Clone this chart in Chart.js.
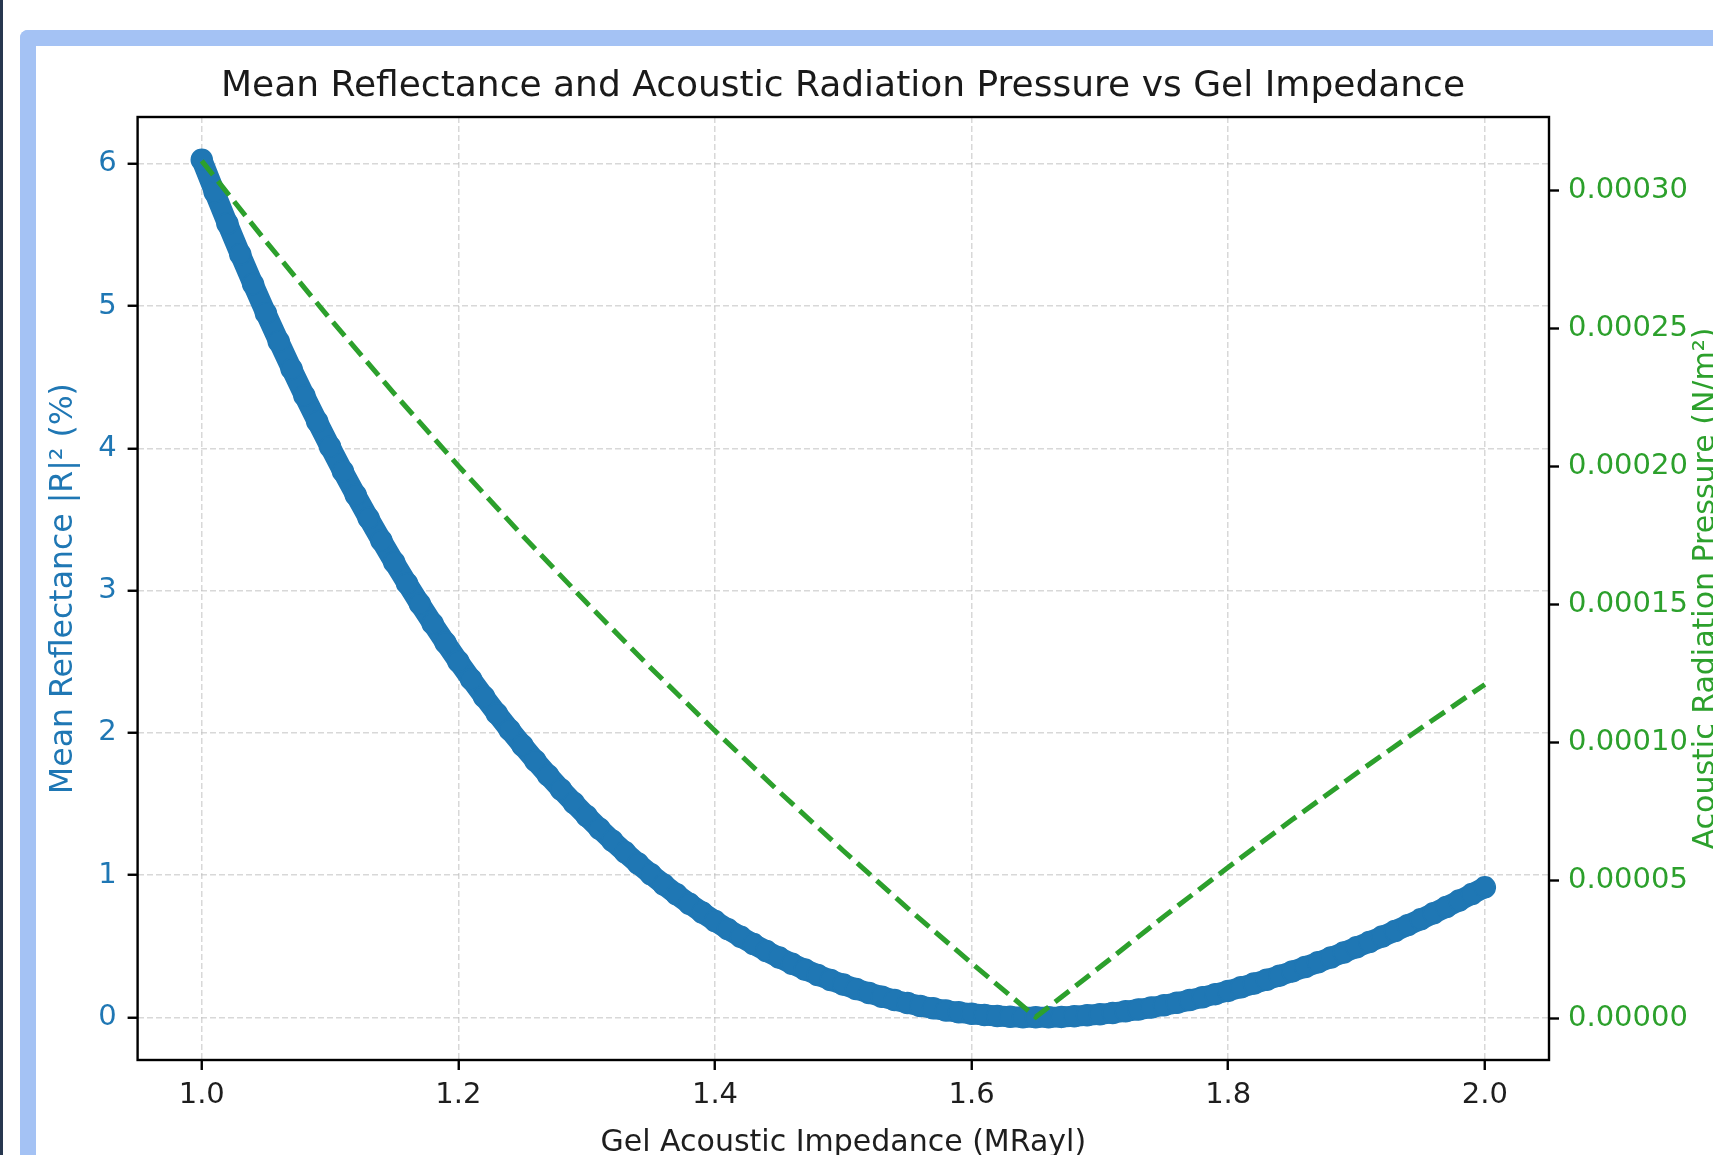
<!DOCTYPE html>
<html>
<head>
<meta charset="utf-8">
<script src="https://cdn.jsdelivr.net/npm/chart.js@4"></script>
<style>
  html, body { margin: 0; padding: 0; background: #ffffff; overflow: hidden; width: 1713px; height: 1155px; }
  #navy { position: absolute; left: 0; top: 0; width: 3px; height: 1155px; background: #27374f; }
  #frame { position: absolute; left: 20px; top: 30px; width: 1900px; height: 1300px;
           border-left: 16px solid #a4c2f4; border-top: 16px solid #a4c2f4;
           border-top-left-radius: 8px; background: #ffffff; }
  #wrap { position: absolute; left: -40px; top: 0; width: 1766px; height: 1200px; }
  canvas { display: block; }
</style>
</head>
<body>
<div id="navy"></div>
<div id="frame"></div>
<div id="wrap"><canvas id="c" width="1766" height="1200"></canvas></div>
<script>
// ---- data ----
const impedance = [1.00,1.01,1.02,1.03,1.04,1.05,1.06,1.07,1.08,1.09,1.10,1.11,1.12,1.13,1.14,1.15,1.16,1.17,1.18,1.19,1.20,1.21,1.22,1.23,1.24,1.25,1.26,1.27,1.28,1.29,1.30,1.31,1.32,1.33,1.34,1.35,1.36,1.37,1.38,1.39,1.40,1.41,1.42,1.43,1.44,1.45,1.46,1.47,1.48,1.49,1.50,1.51,1.52,1.53,1.54,1.55,1.56,1.57,1.58,1.59,1.60,1.61,1.62,1.63,1.64,1.65,1.66,1.67,1.68,1.69,1.70,1.71,1.72,1.73,1.74,1.75,1.76,1.77,1.78,1.79,1.80,1.81,1.82,1.83,1.84,1.85,1.86,1.87,1.88,1.89,1.90,1.91,1.92,1.93,1.94,1.95,1.96,1.97,1.98,1.99,2.00];
const reflectance = [6.030,5.803,5.581,5.365,5.155,4.951,4.752,4.559,4.371,4.189,4.012,3.839,3.672,3.510,3.352,3.199,3.051,2.907,2.768,2.633,2.502,2.376,2.254,2.135,2.021,1.911,1.804,1.701,1.602,1.507,1.415,1.326,1.241,1.160,1.081,1.006,0.934,0.865,0.799,0.737,0.677,0.620,0.566,0.515,0.466,0.420,0.377,0.336,0.298,0.263,0.230,0.199,0.171,0.145,0.121,0.100,0.080,0.063,0.048,0.035,0.025,0.016,0.009,0.004,0.001,0.000,0.001,0.003,0.008,0.014,0.021,0.031,0.042,0.055,0.069,0.085,0.102,0.121,0.141,0.163,0.186,0.211,0.237,0.264,0.293,0.323,0.354,0.387,0.421,0.456,0.492,0.529,0.568,0.607,0.648,0.689,0.732,0.776,0.821,0.867,0.914];
const pressureImpedance = [1.00,1.05,1.10,1.15,1.20,1.25,1.30,1.35,1.40,1.45,1.50,1.55,1.60,1.65,1.70,1.75,1.80,1.85,1.90,1.95,2.00];
const pressure = [0.0003109,0.0002817,0.0002536,0.0002265,0.0002003,0.0001750,0.0001506,0.0001270,0.0001042,0.0000821,0.0000607,0.0000399,0.0000199,0.0000004,0.0000185,0.0000369,0.0000547,0.0000720,0.0000888,0.0001051,0.0001210];
const xTicks = [1.0,1.2,1.4,1.6,1.8,2.0];
const yTicks = [0,1,2,3,4,5,6];
const y2Ticks = [0,0.00005,0.00010,0.00015,0.00020,0.00025,0.00030];
const titleText = 'Mean Reflectance and Acoustic Radiation Pressure vs Gel Impedance';
const xLabel = 'Gel Acoustic Impedance (MRayl)';
const yLabel = 'Mean Reflectance |R|² (%)';
const y2Label = 'Acoustic Radiation Pressure (N/m²)';

// ---- styling ----
const BLUE = '#1f77b4';
const GREEN = '#2ca02c';
const FONT = '"DejaVu Sans", "Liberation Sans", sans-serif';
const GRID = 'rgba(190,190,190,0.6)';

const framePlugin = {
  id: 'frame',
  afterDatasetsDraw(chart) {
    const a = chart.chartArea, ctx = chart.ctx;
    ctx.save();
    ctx.strokeStyle = '#000';
    ctx.lineWidth = 2.4;
    ctx.setLineDash([]);
    ctx.strokeRect(a.left, a.top, a.right - a.left, a.bottom - a.top);
    ctx.restore();
  }
};
const rightTitlePlugin = {
  id: 'rightTitle',
  afterDraw(chart) {
    const s = chart.scales.y2, a = chart.chartArea, ctx = chart.ctx;
    ctx.save();
    ctx.font = '30px ' + FONT;
    ctx.fillStyle = GREEN;
    ctx.textAlign = 'center';
    ctx.textBaseline = 'middle';
    ctx.translate(s.right - 20, (a.top + a.bottom) / 2);
    ctx.rotate(-Math.PI / 2);
    ctx.fillText(y2Label, 0, 0);
    ctx.restore();
  }
};

new Chart(document.getElementById('c'), {
  type: 'line',
  data: {
    datasets: [
      {
        label: 'Acoustic Radiation Pressure',
        data: pressureImpedance.map((x, i) => ({ x: x, y: pressure[i] })),
        yAxisID: 'y2',
        borderColor: GREEN,
        borderWidth: 5,
        borderDash: [18, 8],
        pointRadius: 0,
        fill: false,
        tension: 0,
        order: 0
      },
      {
        label: 'Mean Reflectance',
        data: impedance.map((x, i) => ({ x: x, y: reflectance[i] })),
        yAxisID: 'y',
        borderColor: BLUE,
        backgroundColor: BLUE,
        borderWidth: 21,
        borderJoinStyle: 'round',
        pointRadius: 10.5,
        pointBorderWidth: 1.5,
        pointBorderColor: BLUE,
        pointBackgroundColor: BLUE,
        fill: false,
        tension: 0,
        order: 1
      }
    ]
  },
  options: {
    responsive: false,
    animation: false,
    devicePixelRatio: 1,
    layout: { padding: 0 },
    plugins: {
      legend: { display: false },
      tooltip: { enabled: false },
      title: {
        display: true,
        text: titleText,
        color: '#1a1a1a',
        font: { family: FONT, size: 36, weight: 'normal' },
        padding: { top: 65.5, bottom: 8.3 }
      }
    },
    scales: {
      x: {
        type: 'linear',
        position: 'bottom',
        min: 0.95,
        max: 2.05,
        afterBuildTicks: s => { s.ticks = xTicks.map(v => ({ value: v })); },
        afterFit: s => { s.height = 140; },
        ticks: {
          color: '#1e1e1e',
          font: { family: FONT, size: 29 },
          padding: 8,
          maxRotation: 0,
          autoSkip: false,
          callback: v => Number(v).toFixed(1)
        },
        grid: {
          color: GRID,
          lineWidth: 1.5,
          drawTicks: true,
          tickLength: 10,
          tickColor: '#000',
          tickWidth: 2.4
        },
        border: { display: false, dash: [6, 3] },
        title: {
          display: true,
          text: xLabel,
          color: '#1e1e1e',
          font: { family: FONT, size: 30 },
          padding: { top: 0, bottom: 39 }
        }
      },
      y: {
        type: 'linear',
        position: 'left',
        min: -0.30,
        max: 6.33,
        afterBuildTicks: s => { s.ticks = yTicks.map(v => ({ value: v })); },
        afterFit: s => { s.width = 177.6; },
        ticks: {
          color: BLUE,
          font: { family: FONT, size: 29 },
          padding: 11,
          autoSkip: false,
          callback: v => String(Math.round(v))
        },
        grid: {
          color: GRID,
          lineWidth: 1.5,
          drawTicks: true,
          tickLength: 10,
          tickColor: '#000',
          tickWidth: 2.4
        },
        border: { display: false, dash: [6, 3] },
        title: {
          display: true,
          text: yLabel,
          color: BLUE,
          font: { family: FONT, size: 31.5 },
          padding: { top: 85, bottom: 0 }
        }
      },
      y2: {
        type: 'linear',
        position: 'right',
        min: -0.0000152,
        max: 0.0003268,
        afterBuildTicks: s => { s.ticks = y2Ticks.map(v => ({ value: v })); },
        afterFit: s => { s.width = 177; },
        ticks: {
          color: GREEN,
          font: { family: FONT, size: 29 },
          padding: 9,
          autoSkip: false,
          callback: v => Number(v).toFixed(5)
        },
        grid: {
          drawOnChartArea: false,
          drawTicks: true,
          tickLength: 10,
          tickColor: '#000',
          tickWidth: 2.4
        },
        border: { display: false }
      }
    }
  },
  plugins: [framePlugin, rightTitlePlugin]
});
</script>
</body>
</html>
